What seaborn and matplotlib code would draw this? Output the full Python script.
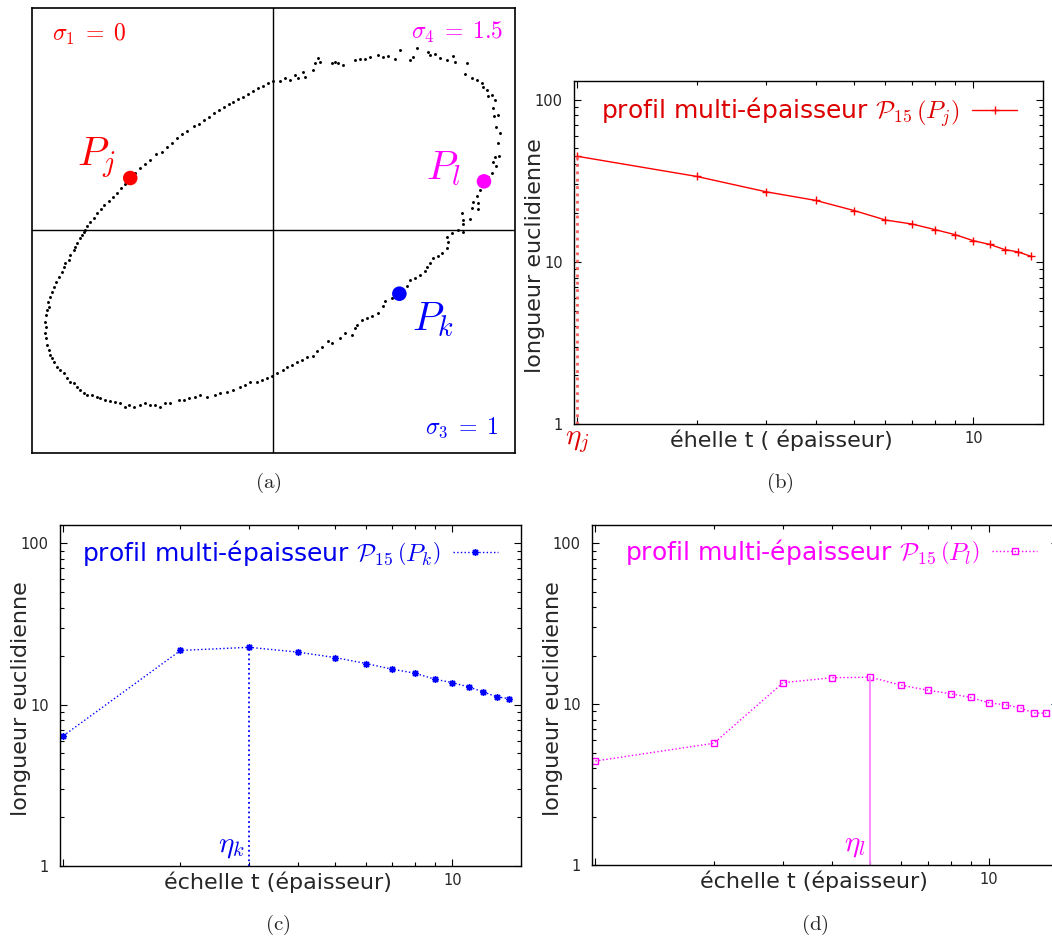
import matplotlib
matplotlib.use('Agg')
import matplotlib.pyplot as plt
import matplotlib.transforms as mtransforms
import numpy as np
import seaborn as sns

sns.set_style('white')
plt.rcParams['font.family'] = ['DejaVu Sans']
plt.rcParams['mathtext.fontset'] = 'cm'

# ---- (a) scanned contour, image pixel coords (y grows downward) ----
diag_upper = [(165, 690), (170, 680), (180, 667), (190, 655), (200, 641), (211, 628), (222, 616),
              (235, 603), (248, 591), (260, 579), (272, 566), (285, 552), (315, 520), (330, 506),
              (345, 492), (360, 481), (378, 463), (395, 456), (410, 441), (425, 429), (440, 416),
              (455, 403), (470, 393), (490, 379), (505, 372), (520, 360), (535, 352), (550, 341),
              (565, 331), (580, 323), (595, 313), (610, 306), (625, 298), (640, 291), (655, 282),
              (670, 275), (685, 266), (700, 258), (715, 251), (728, 243)]
arc_top = [(750, 245), (765, 236), (780, 241), (795, 226), (805, 236), (820, 216), (825, 231),
           (850, 211), (855, 191), (865, 174), (870, 186), (905, 190), (915, 186), (925, 191),
           (940, 196), (975, 181), (990, 178), (1005, 179), (1020, 173), (1045, 165), (1060, 171),
           (1075, 169), (1095, 179), (1110, 152), (1140, 181), (1150, 173), (1160, 145), (1195, 158),
           (1200, 166), (1215, 163), (1230, 176), (1250, 181), (1270, 170), (1275, 186), (1310, 190),
           (1305, 222), (1325, 236), (1340, 241), (1355, 250), (1358, 263), (1370, 271), (1375, 290),
           (1385, 286), (1395, 300), (1390, 326), (1392, 350), (1405, 346), (1398, 381), (1410, 401),
           (1405, 431), (1408, 470), (1395, 471), (1390, 486), (1398, 500), (1385, 520), (1375, 531)]
descent_right = [(1350, 570), (1340, 590), (1330, 606), (1345, 611), (1325, 625), (1345, 628),
                 (1295, 641), (1300, 660), (1320, 658), (1300, 672), (1285, 690), (1300, 697),
                 (1265, 700), (1250, 712), (1255, 726), (1250, 745), (1235, 760), (1225, 770),
                 (1210, 776), (1200, 790), (1190, 801), (1185, 815), (1170, 826), (1155, 835),
                 (1140, 841), (1130, 860), (1118, 872)]
loop_bottom = [(1085, 895), (1065, 905), (1060, 918), (1045, 940), (1025, 950), (1010, 955),
               (995, 961), (980, 975), (975, 986), (965, 1005), (945, 1000), (930, 1016), (905, 1030),
               (895, 1025), (875, 1041), (860, 1055), (850, 1070), (830, 1071), (815, 1080),
               (800, 1086), (785, 1095), (770, 1101), (760, 1110), (740, 1121), (725, 1130),
               (710, 1135), (695, 1141), (680, 1146), (660, 1146), (645, 1155), (630, 1161),
               (610, 1170), (590, 1176), (570, 1181), (555, 1185), (530, 1191), (510, 1186),
               (495, 1191), (475, 1196), (460, 1201), (445, 1201), (420, 1211), (405, 1210),
               (390, 1221), (375, 1216), (360, 1215), (345, 1211), (330, 1216), (310, 1221),
               (295, 1216), (285, 1221), (270, 1211), (255, 1206), (240, 1205), (225, 1201),
               (210, 1196), (200, 1191), (185, 1186), (170, 1185), (160, 1181), (150, 1171),
               (140, 1161), (130, 1151), (120, 1146), (110, 1136), (100, 1121), (90, 1111),
               (80, 1101), (70, 1086), (65, 1075), (60, 1066), (55, 1051), (50, 1036), (48, 1016),
               (45, 1001), (46, 981), (45, 966), (48, 946), (50, 931), (55, 921), (52, 906),
               (60, 891), (65, 876), (70, 861), (78, 846), (85, 831), (95, 816), (100, 801),
               (105, 791), (115, 781), (120, 766), (130, 751), (135, 741), (140, 729), (150, 716),
               (155, 706), (160, 696)]

key_names = [r'$P_j$', r'$P_l$', r'$P_k$']
key_x = [300, 1362, 1108]
key_y = [535, 545, 882]
key_colors = ['#ff0000', '#ff00ff', '#0000ff']

sigma_labels = [r'$\sigma_1\;=\;0$', r'$\sigma_4\;=\;1.5$', r'$\sigma_3\;=\;1$']

# ---- (b)-(d) multi-thickness profiles ----
scale_t = [1, 2, 3, 4, 5, 6, 7, 8, 9, 10, 11, 12, 13, 14]
profile_j = [44.7, 33.6, 27.0, 23.9, 20.7, 18.1, 17.1, 15.8, 14.7, 13.5, 12.8, 11.9, 11.5, 10.8]
profile_k = [6.42, 21.7, 22.7, 21.2, 19.6, 18.0, 16.6, 15.7, 14.4, 13.7, 12.9, 12.0, 11.2, 10.9]
profile_l = [4.43, 5.71, 13.6, 14.6, 14.7, 13.1, 12.2, 11.6, 11.0, 10.2, 9.9, 9.5, 8.8, 8.8]
eta_j, eta_k, eta_l = 1, 3, 5

fig = plt.figure(figsize=(10.52, 9.44), dpi=100)

# ---------------- (a) ----------------
ax_a = fig.add_axes([0.0304, 0.5201, 0.4591, 0.4714])
pts = diag_upper + arc_top + descent_right + loop_bottom
sns.scatterplot(x=[p[0] for p in pts], y=[p[1] for p in pts], s=4.5, color='black',
                linewidth=0, ax=ax_a)
ax_a.axvline(730, color='black', lw=1)
ax_a.axhline(691, color='black', lw=1)
sns.scatterplot(x=key_x, y=key_y, hue=key_names, palette=key_colors, s=110,
                linewidth=0, legend=False, ax=ax_a, zorder=3)
ax_a.set_xlim(5, 1455)
ax_a.set_ylim(1360, 25)
ax_a.set_xticks([])
ax_a.set_yticks([])
ax_a.set_xlabel('')
ax_a.set_ylabel('')
for sp in ax_a.spines.values():
    sp.set_color('black')
    sp.set_linewidth(1.2)

ax_a.text(258, 500, key_names[0], color=key_colors[0], fontsize=29, ha='right', va='baseline')
ax_a.text(1295, 538, key_names[1], color=key_colors[1], fontsize=29, ha='right', va='baseline')
ax_a.text(1145, 990, key_names[2], color=key_colors[2], fontsize=29, ha='left', va='baseline')

ax_a.text(0.041, 0.968, sigma_labels[0], color='#ff0000', fontsize=17,
          ha='left', va='top', transform=ax_a.transAxes)
ax_a.text(0.975, 0.972, sigma_labels[1], color='#ff00ff', fontsize=17,
          ha='right', va='top', transform=ax_a.transAxes)
ax_a.text(0.965, 0.03, sigma_labels[2], color='#0000ff', fontsize=17,
          ha='right', va='bottom', transform=ax_a.transAxes)


def draw_profile(ax, values, eta, color, text_color, eta_color, marker, ms, mfc, ls,
                 label, eta_label, xlabel, xlab_x, leg_anchor, eta_lw, eta_ls, eta_below):
    sns.lineplot(x=scale_t, y=values, ax=ax, color=color, marker=marker, markersize=ms,
                 markerfacecolor=mfc, markeredgecolor=color, markeredgewidth=1,
                 linestyle=ls, linewidth=1, label=label)
    y_eta = values[scale_t.index(eta)]
    ax.vlines(eta, 1, y_eta, colors=eta_color, linestyles=eta_ls, lw=eta_lw)

    ax.set_xscale('log')
    ax.set_yscale('log')
    ax.set_xlim(0.98, 15)
    ax.set_ylim(1, 130)
    ax.set_xticks([1, 10])
    ax.set_xticklabels(['', '10'])
    ax.set_xticks([2, 3, 4, 5, 6, 7, 8, 9], minor=True)
    ax.set_xticklabels([], minor=True)
    ax.set_yticks([1, 10, 100])
    ax.set_yticklabels(['1', '10', '100'])
    ax.set_yticks([v * d for d in (1, 10) for v in range(2, 10)], minor=True)
    ax.set_yticklabels([], minor=True)
    ax.tick_params(which='both', direction='in', bottom=True, left=True, top=True, right=True,
                   labelsize=10.5, color='black')
    ax.tick_params(which='major', length=5, width=0.8)
    ax.tick_params(which='minor', length=3, width=0.8)
    ax.tick_params(axis='y', pad=8)
    ax.tick_params(axis='x', pad=5)
    for sp in ax.spines.values():
        sp.set_color('black')
        sp.set_linewidth(1)

    ax.set_xlabel(xlabel, fontsize=16)
    ax.xaxis.set_label_coords(xlab_x, -0.015)
    ax.set_ylabel('longueur euclidienne', fontsize=16)
    ax.yaxis.set_label_coords(-0.062, 0.49)

    ax.legend(loc='center right', bbox_to_anchor=leg_anchor, frameon=False, markerfirst=False,
              fontsize=18, handlelength=1.8, handletextpad=0.5, borderpad=0,
              borderaxespad=0, labelcolor=text_color, numpoints=1)

    if eta_below:
        trans = mtransforms.blended_transform_factory(ax.transData, ax.transAxes)
        ax.text(eta, -0.008, eta_label, transform=trans, color=text_color, fontsize=21,
                ha='center', va='top')
    else:
        ax.annotate(eta_label, xy=(eta, 1), xytext=(-3, 4), textcoords='offset points',
                    color=text_color, fontsize=21, ha='right', va='bottom')


# ---------------- (b) ----------------
ax_b = fig.add_axes([0.5456, 0.5508, 0.4458, 0.3633])
draw_profile(ax_b, profile_j, eta_j, '#ff0000', '#dd0000', '#ff6060', '+', 6, '#ff0000', '-',
             r'profil multi-épaisseur $\mathcal{P}_{15}\,\left(P_j\right)$', r'$\eta_j$',
             'éhelle t ( épaisseur)', 0.443, (0.945, 0.91), 2.0, ':', True)

# ---------------- (c) ----------------
ax_c = fig.add_axes([0.0570, 0.0826, 0.4382, 0.3612])
draw_profile(ax_c, profile_k, eta_k, '#0000ff', '#0000ee', '#0000ff', (8, 2, 0), 5, '#0000ff', ':',
             r'profil multi-épaisseur $\mathcal{P}_{15}\,\left(P_k\right)$', r'$\eta_k$',
             'échelle t (épaisseur)', 0.473, (0.95, 0.918), 1.3, ':', False)

# ---------------- (d) ----------------
ax_d = fig.add_axes([0.5627, 0.0837, 0.4430, 0.3602])
draw_profile(ax_d, profile_l, eta_l, '#ff00ff', '#ff00ff', '#ff80ff', 's', 4.5, 'none', ':',
             r'profil multi-épaisseur $\mathcal{P}_{15}\,\left(P_l\right)$', r'$\eta_l$',
             'échelle t (épaisseur)', 0.476, (0.955, 0.92), 1.3, '-', False)

# captions
fig.text(268 / 1052, 1 - 483 / 944, r'$\mathrm{(a)}$', fontsize=15, ha='center', va='center')
fig.text(780 / 1052, 1 - 483 / 944, r'$\mathrm{(b)}$', fontsize=15, ha='center', va='center')
fig.text(278 / 1052, 1 - 925 / 944, r'$\mathrm{(c)}$', fontsize=15, ha='center', va='center')
fig.text(815 / 1052, 1 - 925 / 944, r'$\mathrm{(d)}$', fontsize=15, ha='center', va='center')

fig.savefig('out.png', dpi=100)
